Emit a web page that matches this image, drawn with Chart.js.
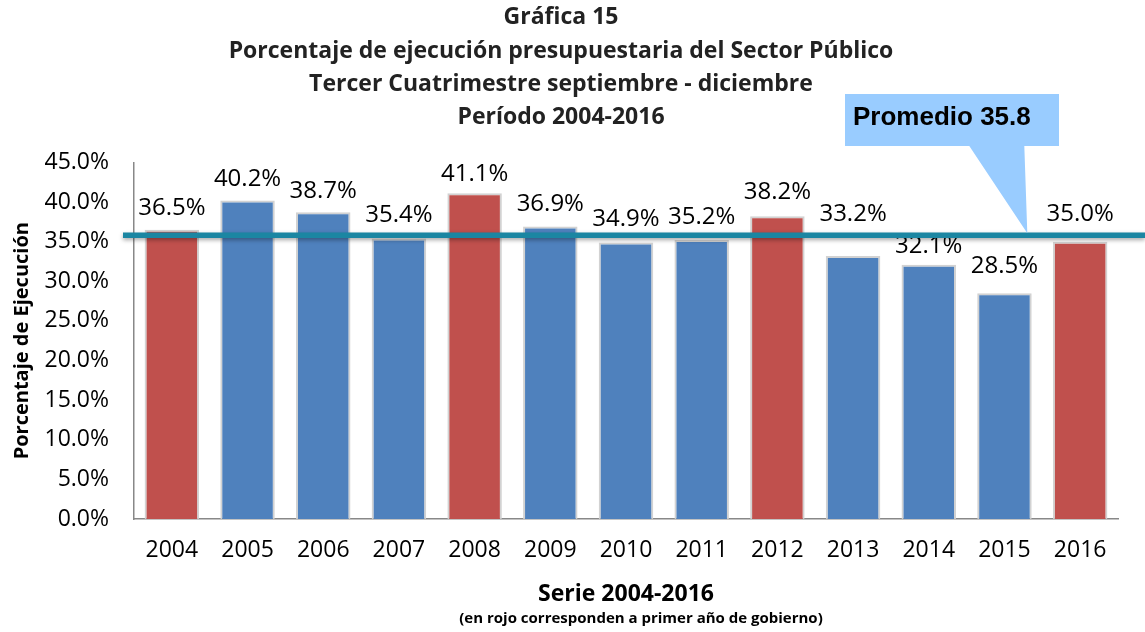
<!DOCTYPE html>
<html>
<head>
<meta charset="utf-8">
<script src="https://cdn.jsdelivr.net/npm/chart.js@4"></script>
<style>
  html, body { margin: 0; padding: 0; background: #fff; }
  #caja { width: 1145px; height: 632px; }
</style>
</head>
<body>
<div id="caja"><canvas id="graficaEjecucion"></canvas></div>
<script>
// Datos
const anios = ["2004", "2005", "2006", "2007", "2008", "2009", "2010", "2011", "2012", "2013", "2014", "2015", "2016"];
const porcentajes = [36.5, 40.2, 38.7, 35.4, 41.1, 36.9, 34.9, 35.2, 38.2, 33.2, 32.1, 28.5, 35.0];
const primerAnio = ["2004", "2008", "2012", "2016"];
const promedio = 35.8;
const nota = "(en rojo corresponden a primer año de gobierno)";

// distancia (px) de cada etiqueta sobre su barra, como en el original
const separacionEtiqueta = [22, 21, 21, 23, 19, 22, 23, 23, 24, 42, 18, 27, 27];

const ROJO = "#C0504D";
const AZUL = "#4F81BD";
const FUENTE = "'Open Sans', Lato, sans-serif";

const colores = anios.map(a => primerAnio.includes(a) ? ROJO : AZUL);

// Etiquetas sobre las barras
const etiquetasPlugin = {
    id: "etiquetas",
    afterDatasetsDraw(chart) {
        const ctx = chart.ctx;
        const meta = chart.getDatasetMeta(0);
        ctx.save();
        ctx.font = "24px " + FUENTE;
        ctx.fillStyle = "#000";
        ctx.textAlign = "center";
        ctx.textBaseline = "middle";
        meta.data.forEach((barra, i) => {
            ctx.fillText(porcentajes[i].toFixed(1) + "%", barra.x, barra.y - separacionEtiqueta[i]);
        });
        ctx.restore();
    }
};

// Nota al pie (centrada bajo el titulo del eje)
const notaPlugin = {
    id: "nota",
    afterDraw(chart) {
        const ctx = chart.ctx;
        const area = chart.chartArea;
        ctx.save();
        ctx.font = "bold 15px " + FUENTE;
        ctx.fillStyle = "#000";
        ctx.textAlign = "center";
        ctx.textBaseline = "middle";
        ctx.fillText(nota, (area.left + area.right) / 2 + 15, 619);
        ctx.restore();
    }
};

// Linea del promedio y globo
const promedioPlugin = {
    id: "promedio",
    afterDraw(chart) {
        const ctx = chart.ctx;
        const y = chart.scales.y.getPixelForValue(promedio);
        const x = chart.scales.x;
        const area = chart.chartArea;

        ctx.save();
        ctx.shadowColor = "rgba(0,0,0,0.35)";
        ctx.shadowBlur = 4;
        ctx.shadowOffsetY = 2;
        ctx.strokeStyle = "#1B86A2";
        ctx.lineWidth = 5.5;
        ctx.beginPath();
        ctx.moveTo(area.left - 11, y);
        ctx.lineTo(chart.width, y);
        ctx.stroke();
        ctx.restore();

        // globo
        const punta = (x.getPixelForValue(11) + x.getPixelForValue(12)) / 2;
        const izq = 845, der = 1059, arriba = 94, abajo = 146;
        ctx.save();
        ctx.fillStyle = "#99CCFF";
        ctx.beginPath();
        ctx.moveTo(izq, arriba);
        ctx.lineTo(der, arriba);
        ctx.lineTo(der, abajo);
        ctx.lineTo(punta - 18, abajo);
        ctx.lineTo(punta - 15, y - 2);
        ctx.lineTo(punta - 73, abajo);
        ctx.lineTo(izq, abajo);
        ctx.closePath();
        ctx.fill();
        ctx.fillStyle = "#000";
        ctx.font = "bold 26px 'Liberation Sans', Arial, sans-serif";
        ctx.textAlign = "left";
        ctx.textBaseline = "middle";
        ctx.fillText("Promedio " + promedio.toFixed(1), izq + 8, 118);
        ctx.restore();
    }
};

new Chart(document.getElementById("graficaEjecucion"), {
    type: "bar",
    data: {
        labels: anios,
        datasets: [{
            label: "Porcentaje de ejecución",
            data: porcentajes,
            backgroundColor: colores,
            borderColor: "rgba(205,205,205,0.9)",
            borderWidth: 2,
            categoryPercentage: 1,
            barPercentage: 0.72
        }]
    },
    options: {
        responsive: true,
        maintainAspectRatio: false,
        animation: false,
        layout: { padding: { left: 4, right: 27, top: 0, bottom: 0 } },
        plugins: {
            legend: { display: false },
            tooltip: { enabled: false },
            title: {
                display: true,
                text: [
                    "Gráfica 15",
                    "Porcentaje de ejecución presupuestaria del Sector Público",
                    "Tercer Cuatrimestre septiembre - diciembre",
                    "Período 2004-2016"
                ],
                color: "#222",
                font: { family: FUENTE, size: 23, weight: "bold", lineHeight: 1.45 },
                padding: { top: 1, bottom: 28 }
            }
        },
        scales: {
            x: {
                afterFit: s => { s.height = 113; },
                grid: { display: false, drawTicks: false },
                border: { color: "#888", width: 1.5 },
                ticks: { color: "#000", font: { family: FUENTE, size: 23 }, padding: 18 },
                title: {
                    display: true,
                    text: "Serie 2004-2016",
                    color: "#000",
                    font: { family: FUENTE, size: 23, weight: "bold" },
                    padding: { top: 10, bottom: 24 }
                }
            },
            y: {
                min: 0,
                max: 45,
                afterFit: s => { s.width = 130; },
                grid: { display: false, drawTicks: false },
                border: { color: "#888", width: 1.5 },
                ticks: {
                    stepSize: 5,
                    color: "#000",
                    font: { family: FUENTE, size: 23 },
                    padding: 25,
                    callback: v => v.toFixed(1) + "%"
                },
                title: {
                    display: true,
                    text: "Porcentaje de Ejecución",
                    color: "#000",
                    font: { family: FUENTE, size: 20, weight: "bold" },
                    padding: { top: 6, bottom: 8 }
                }
            }
        }
    },
    plugins: [etiquetasPlugin, promedioPlugin, notaPlugin]
});
</script>
</body>
</html>
